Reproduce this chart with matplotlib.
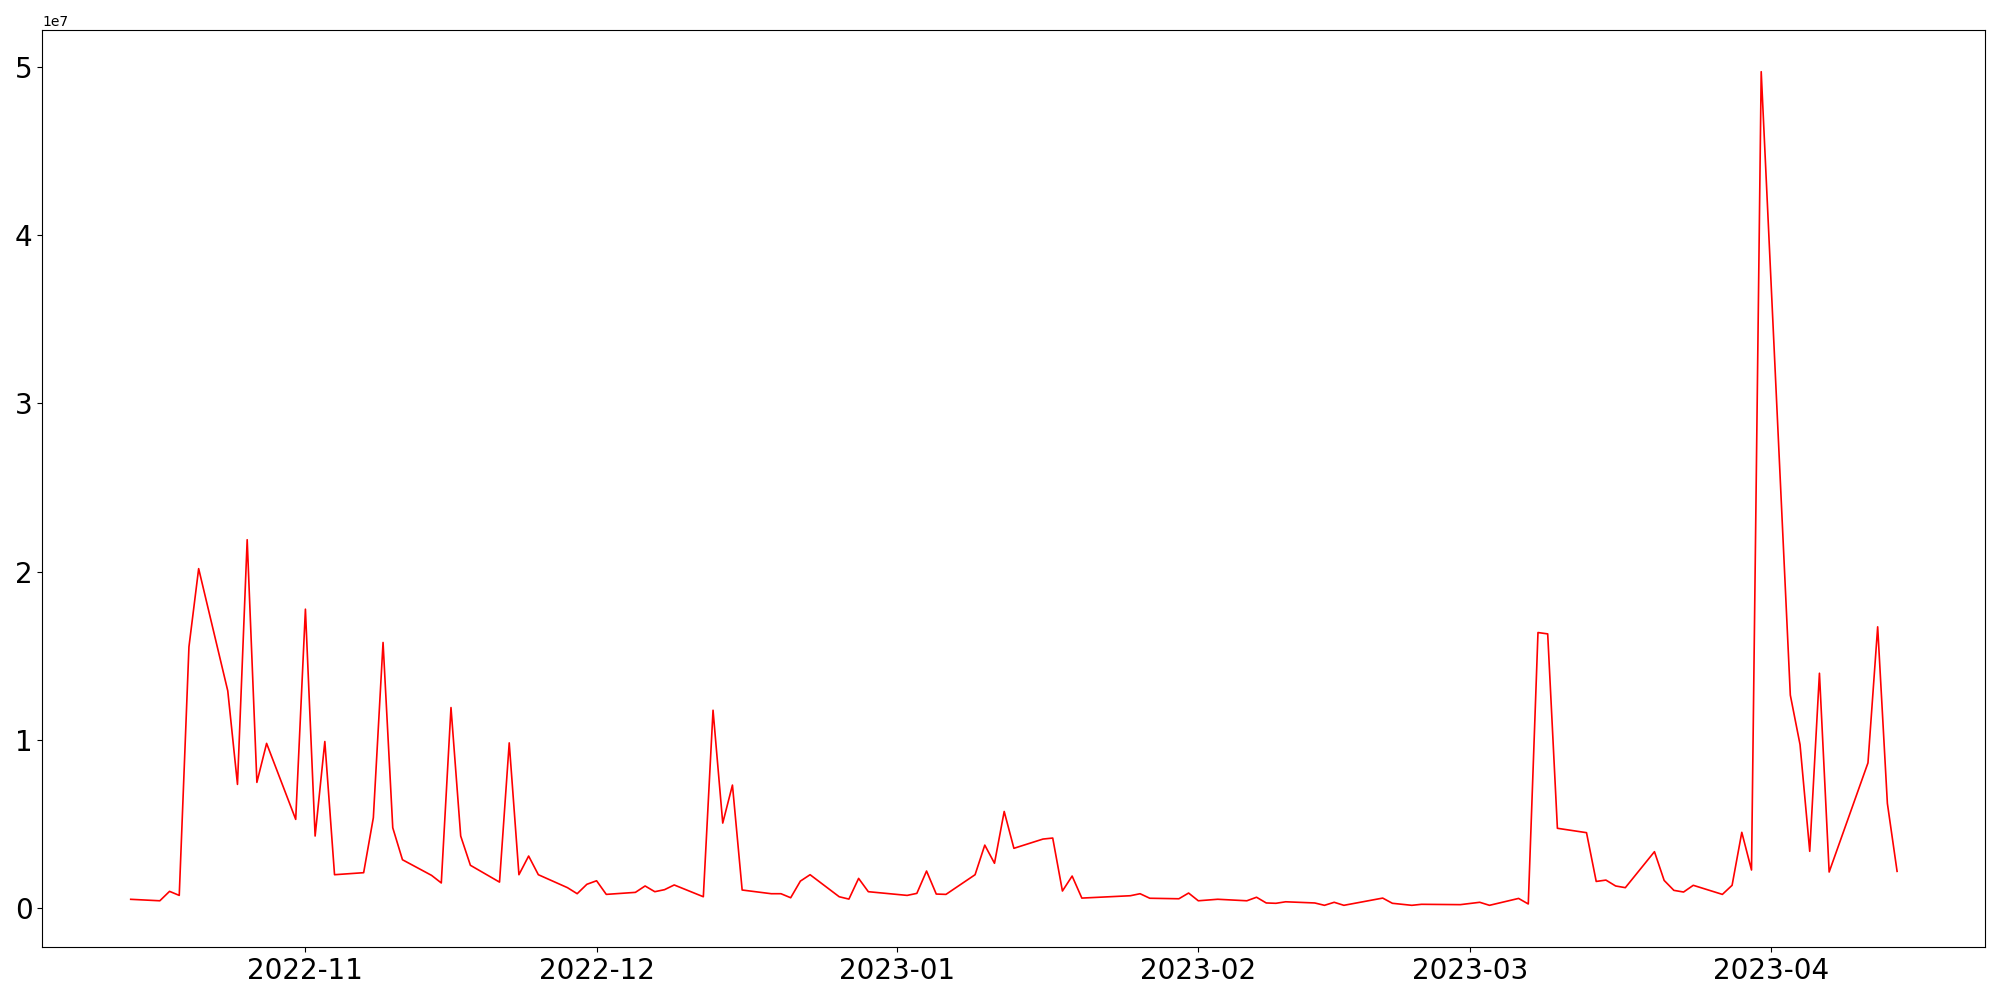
import matplotlib
matplotlib.use("Agg")
import matplotlib.pyplot as plt
import matplotlib.dates as mdates
import pandas as pd

dates = [
    "2022-10-14", "2022-10-17", "2022-10-18", "2022-10-19", "2022-10-20", "2022-10-21",
    "2022-10-24", "2022-10-25", "2022-10-26", "2022-10-27", "2022-10-28", "2022-10-31",
    "2022-11-01", "2022-11-02", "2022-11-03", "2022-11-04", "2022-11-07", "2022-11-08",
    "2022-11-09", "2022-11-10", "2022-11-11", "2022-11-14", "2022-11-15", "2022-11-16",
    "2022-11-17", "2022-11-18", "2022-11-21", "2022-11-22", "2022-11-23", "2022-11-24",
    "2022-11-25", "2022-11-28", "2022-11-29", "2022-11-30", "2022-12-01", "2022-12-02",
    "2022-12-05", "2022-12-06", "2022-12-07", "2022-12-08", "2022-12-09", "2022-12-12",
    "2022-12-13", "2022-12-14", "2022-12-15", "2022-12-16", "2022-12-19", "2022-12-20",
    "2022-12-21", "2022-12-22", "2022-12-23", "2022-12-26", "2022-12-27", "2022-12-28",
    "2022-12-29", "2023-01-02", "2023-01-03", "2023-01-04", "2023-01-05", "2023-01-06",
    "2023-01-09", "2023-01-10", "2023-01-11", "2023-01-12", "2023-01-13", "2023-01-16",
    "2023-01-17", "2023-01-18", "2023-01-19", "2023-01-20", "2023-01-25", "2023-01-26",
    "2023-01-27", "2023-01-30", "2023-01-31", "2023-02-01", "2023-02-03", "2023-02-06",
    "2023-02-07", "2023-02-08", "2023-02-09", "2023-02-10", "2023-02-13", "2023-02-14",
    "2023-02-15", "2023-02-16", "2023-02-20", "2023-02-21", "2023-02-23", "2023-02-24",
    "2023-02-28", "2023-03-02", "2023-03-03", "2023-03-06", "2023-03-07", "2023-03-08",
    "2023-03-09", "2023-03-10", "2023-03-13", "2023-03-14", "2023-03-15", "2023-03-16",
    "2023-03-17", "2023-03-20", "2023-03-21", "2023-03-22", "2023-03-23", "2023-03-24",
    "2023-03-27", "2023-03-28", "2023-03-29", "2023-03-30", "2023-03-31", "2023-04-03",
    "2023-04-04", "2023-04-05", "2023-04-06", "2023-04-07", "2023-04-11", "2023-04-12",
    "2023-04-13", "2023-04-14",
]

values = [
    517e3, 430e3, 990e3, 750e3, 15.53e6, 20.18e6,
    12.91e6, 7.35e6, 21.9e6, 7.47e6, 9.79e6, 5.27e6,
    17.77e6, 4.28e6, 9.9e6, 1.98e6, 2.10e6, 5.37e6,
    15.79e6, 4.77e6, 2.87e6, 1.94e6, 1.49e6, 11.92e6,
    4.28e6, 2.54e6, 1.54e6, 9.82e6, 1.98e6, 3.09e6,
    1.98e6, 1.21e6, 0.85e6, 1.41e6, 1.62e6, 0.81e6,
    0.93e6, 1.31e6, 0.97e6, 1.09e6, 1.37e6, 0.67e6,
    11.76e6, 5.05e6, 7.31e6, 1.07e6, 0.85e6, 0.85e6,
    0.61e6, 1.60e6, 1.98e6, 0.67e6, 0.53e6, 1.76e6,
    0.97e6, 0.75e6, 0.87e6, 2.20e6, 0.83e6, 0.81e6,
    1.98e6, 3.74e6, 2.66e6, 5.74e6, 3.55e6, 4.10e6,
    4.16e6, 1.01e6, 1.90e6, 0.59e6, 0.73e6, 0.85e6,
    0.58e6, 0.55e6, 0.89e6, 0.43e6, 0.52e6, 0.43e6,
    0.64e6, 0.30e6, 0.28e6, 0.37e6, 0.30e6, 0.16e6,
    0.34e6, 0.16e6, 0.59e6, 0.28e6, 0.16e6, 0.22e6,
    0.20e6, 0.34e6, 0.16e6, 0.57e6, 0.24e6, 16.38e6,
    16.30e6, 4.74e6, 4.48e6, 1.58e6, 1.66e6, 1.31e6,
    1.21e6, 3.35e6, 1.64e6, 1.05e6, 0.95e6, 1.35e6,
    0.81e6, 1.35e6, 4.50e6, 2.26e6, 49.73e6, 12.66e6,
    9.72e6, 3.37e6, 13.96e6, 2.14e6, 8.63e6, 16.72e6,
    6.22e6, 2.18e6,
]

x = pd.to_datetime(dates)

fig = plt.figure(figsize=(20, 10), dpi=100)
ax = fig.add_axes([0.0212, 0.053, 0.9715, 0.917])
ax.plot(x, values, color="red", linewidth=1.2)
ax.xaxis.set_major_locator(mdates.MonthLocator())
ax.xaxis.set_major_formatter(mdates.DateFormatter("%Y-%m"))
ax.tick_params(axis="both", labelsize=20)
fig.savefig("out.png", dpi=100)
